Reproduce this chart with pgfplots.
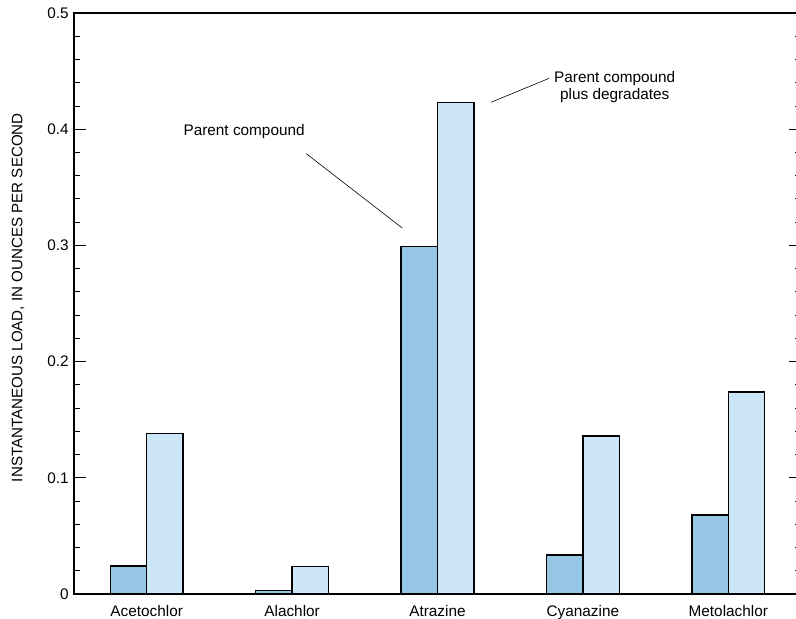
\documentclass[border=0pt]{standalone}
\usepackage{pgfplots}
\pgfplotsset{compat=1.18}
\usepackage{fontspec}
\setmainfont{Liberation Sans}
\definecolor{darkbar}{RGB}{150,200,230}
\definecolor{lightbar}{RGB}{204,230,247}
\begin{document}
\fontsize{15.4}{18}\selectfont
\begin{tikzpicture}
\useasboundingbox (0,0) rectangle (796bp,619bp);
\begin{axis}[
  at={(74bp,25bp)}, anchor=south west,
  scale only axis,
  width=727bp, height=581bp,
  xmin=-0.5, xmax=4.5,
  ymin=0, ymax=0.5,
  xtick={0,1,2,3,4},
  xticklabels={Acetochlor,Alachlor,Atrazine,Cyanazine,Metolachlor},
  x tick style={draw=none},
  ytick={0,0.1,0.2,0.3,0.4,0.5},
  minor y tick num=4,
  ytick pos=both,
  yticklabel pos=left,
  tick align=inside,
  major tick length=12bp,
  minor tick length=6bp,
  every tick/.style={black, line width=0.9pt},
  axis line style={line width=1.2pt},
  /pgf/number format/assume math mode=true,
  ticklabel style={font=\fontsize{15.4}{18}\selectfont},
  yticklabel style={/pgf/number format/fixed},
  xticklabel style={inner sep=0pt, yshift=1bp},
  ylabel={INSTANTANEOUS LOAD, IN OUNCES PER SECOND},
  ylabel style={font=\fontsize{15.2}{18}\selectfont, at={(axis description cs:-0.077,0.51)}, anchor=center, rotate=0},
  ybar, bar width=0.25,
  clip=false,
]
\addplot[ybar, bar shift=-0.125, fill=darkbar, draw=black, line width=1.5pt]
  coordinates {(0,0.024) (1,0.003) (2,0.299) (3,0.0335) (4,0.068)};
\addplot[ybar, bar shift=0.125, fill=lightbar, draw=black, line width=1.5pt]
  coordinates {(0,0.138) (1,0.0235) (2,0.423) (3,0.136) (4,0.174)};
\node[font=\fontsize{15.4}{18}\selectfont] at (axis cs:0.67,0.398) {Parent compound};
\draw[line width=0.6pt] (axis cs:1.097,0.379) -- (axis cs:1.757,0.315);
\node[font=\fontsize{15.4}{18}\selectfont, align=center, inner sep=0pt] at (axis cs:3.219,0.436) {Parent compound\\[-1bp]plus degradates};
\draw[line width=0.6pt] (axis cs:2.369,0.4232) -- (axis cs:2.768,0.4438);
\end{axis}
\end{tikzpicture}
\end{document}
